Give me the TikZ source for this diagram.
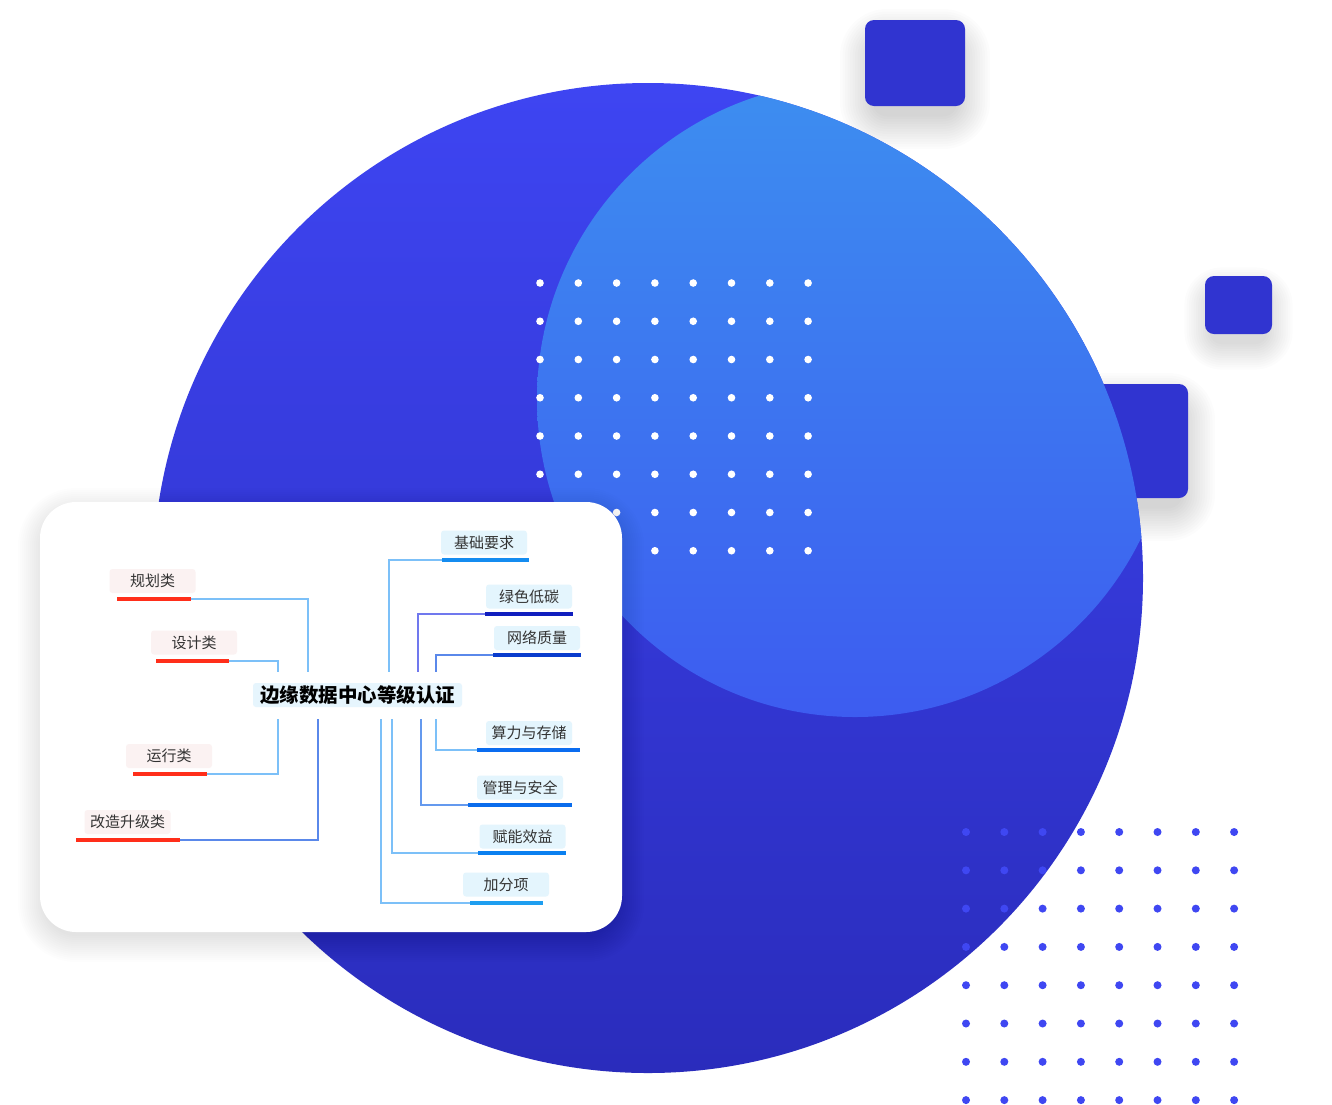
\documentclass[tikz,border=0pt]{standalone}
\usepackage{fontspec}
\setmainfont{Noto Sans CJK SC}
\usetikzlibrary{calc}
\definecolor{bigtop}{HTML}{3E45F2}
\definecolor{bigbot}{HTML}{2A2CBC}
\definecolor{lttop}{HTML}{3D8EF0}
\definecolor{ltbot}{HTML}{3D5CF0}
\definecolor{sqcol}{HTML}{3034D0}
\definecolor{dotblue}{HTML}{3F47F2}
\definecolor{lfill}{HTML}{FBF2F2}
\definecolor{rfill}{HTML}{E4F5FD}
\definecolor{cfill}{HTML}{E6F5FD}
\definecolor{redul}{HTML}{FF2E1A}
\definecolor{connlt}{HTML}{7CC0F8}
\definecolor{connpu}{HTML}{7078EE}
\definecolor{connmd}{HTML}{5A88EA}
\definecolor{txt}{HTML}{333333}
% soft shadow: x1 y1 x2 y2 radius dy layers step alpha
\newcommand{\softsh}[9]{%
  \foreach \k [evaluate=\k as \rr using #5+\k*#8] in {1,...,#7}{
    \fill[black, fill opacity=#9, rounded corners=\rr pt]
      ({#1-\k*#8},{#2-\k*#8+#6}) rectangle ({#3+\k*#8},{#4+\k*#8+#6});
  }}
\tikzset{
  sqbox/.style={fill=sqcol, rounded corners=9pt},
  lbox/.style={fill=lfill, rounded corners=3pt, minimum width=86pt, minimum height=24pt, inner sep=0pt, font=\fontsize{15}{15}\selectfont, text=txt},
  rbox/.style={fill=rfill, rounded corners=3pt, minimum width=86pt, minimum height=24pt, inner sep=0pt, font=\fontsize{15}{15}\selectfont, text=txt},
  ulred/.style={draw=redul, line width=3.5pt},
  ulblue/.style={line width=3.5pt},
  conn/.style={line width=1.3pt},
}
\begin{document}
\begin{tikzpicture}[x=1pt,y=-1pt]
\useasboundingbox (0,0) rectangle (1332,1104);
\fill[white] (0,0) rectangle (1332,1104);
% square shadows
\softsh{875}{30}{955}{100}{12}{14}{14}{2.5}{0.011}
\softsh{1212}{283}{1265}{330}{10}{12}{12}{2.3}{0.011}
\softsh{1070}{394}{1180}{492}{12}{14}{14}{2.5}{0.011}
% squares (behind circle)
\path[sqbox] (865,20) rectangle (965,106);
\path[sqbox] (1205,276) rectangle (1272,334);
\path[sqbox] (1060,384) rectangle (1188,498);
% big circle
\shade[top color=bigtop, middle color=bigtop!88!bigbot, bottom color=bigbot] (648,578) circle (495);
\begin{scope}
  \clip (648,578) circle (495);
  \shade[top color=lttop, middle color=lttop, bottom color=ltbot] (855,399) circle (318);
\end{scope}
% white dots
\foreach \i in {0,...,7}{\foreach \j in {0,...,7}{
  \fill[white] ({540+38.3*\i},{283+38.25*\j}) circle (3.8);
}}
% blue dots
\foreach \i in {0,...,7}{\foreach \j in {0,...,7}{
  \fill[dotblue] ({966+38.3*\i},{832+38.3*\j}) circle (4);
}}
% card shadow and card
\softsh{46}{510}{616}{928}{30}{6}{14}{2}{0.009}
\path[fill=white, rounded corners=36pt] (40,502) rectangle (622,932);
% central node
\node[fill=cfill, rounded corners=3pt, minimum width=209pt, minimum height=24pt, inner sep=0pt,
  font=\fontsize{19.5}{20}\selectfont\bfseries, text=black] (c) at (357.5,695) {边缘数据中心等级认证};
% left branches
\node[lbox] (l1) at (152.5,581) {规划类};
\node[lbox] (l2) at (194,642.5) {设计类};
\node[lbox] (l3) at (169,756) {运行类};
\node[lbox] (l4) at (127.5,822) {改造升级类};
\coordinate (l1a) at (117,599); \coordinate (l1b) at (191,599);
\coordinate (l2a) at (156,661); \coordinate (l2b) at (229,661);
\coordinate (l3a) at (133,774); \coordinate (l3b) at (207,774);
\coordinate (l4a) at (76,840);  \coordinate (l4b) at (180,840);
\coordinate (t1) at (308,672); \coordinate (t2) at (278,672);
\coordinate (b1) at (278,719); \coordinate (b2) at (318,719);
\draw[conn, draw=connlt] (l1b) -| (t1);
\draw[conn, draw=connlt] (l2b) -| (t2);
\draw[conn, draw=connlt] (l3b) -| (b1);
\draw[conn, draw=connmd] (l4b) -| (b2);
\draw[ulred] (l1a) -- (l1b);
\draw[ulred] (l2a) -- (l2b);
\draw[ulred] (l3a) -- (l3b);
\draw[ulred] (l4a) -- (l4b);
% right branches
\node[rbox] (r1) at (484,542.5) {基础要求};
\node[rbox] (r2) at (529,596.5) {绿色低碳};
\node[rbox] (r3) at (537,638) {网络质量};
\node[rbox] (r4) at (529,733) {算力与存储};
\node[rbox] (r5) at (520,787.5) {管理与安全};
\node[rbox] (r6) at (522.5,836.5) {赋能效益};
\node[rbox] (r7) at (506,884.5) {加分项};
\coordinate (r1a) at (442,560); \coordinate (r1b) at (529,560);
\coordinate (r2a) at (485,614); \coordinate (r2b) at (573,614);
\coordinate (r3a) at (493,655); \coordinate (r3b) at (581,655);
\coordinate (r4a) at (477,750); \coordinate (r4b) at (580,750);
\coordinate (r5a) at (468,805); \coordinate (r5b) at (572,805);
\coordinate (r6a) at (478,853); \coordinate (r6b) at (566,853);
\coordinate (r7a) at (470,903); \coordinate (r7b) at (543,903);
\coordinate (t3) at (389,672); \coordinate (t4) at (418,672); \coordinate (t5) at (436,672);
\coordinate (b3) at (436,719); \coordinate (b4) at (421,719); \coordinate (b5) at (392,719); \coordinate (b6) at (381,719);
\draw[conn, draw=connlt] (r1a) -| (t3);
\draw[conn, draw=connpu] (r2a) -| (t4);
\draw[conn, draw=connmd] (r3a) -| (t5);
\draw[conn, draw=connlt] (r4a) -| (b3);
\draw[conn, draw=connmd!70!connlt] (r5a) -| (b4);
\draw[conn, draw=connlt] (r6a) -| (b5);
\draw[conn, draw=connlt] (r7a) -| (b6);
\draw[ulblue, draw={rgb,255:red,20;green,140;blue,240}] (r1a) -- (r1b);
\draw[ulblue, draw={rgb,255:red,16;green,30;blue,190}] (r2a) -- (r2b);
\draw[ulblue, draw={rgb,255:red,10;green,60;blue,205}] (r3a) -- (r3b);
\draw[ulblue, draw={rgb,255:red,10;green,108;blue,240}] (r4a) -- (r4b);
\draw[ulblue, draw={rgb,255:red,10;green,108;blue,236}] (r5a) -- (r5b);
\draw[ulblue, draw={rgb,255:red,10;green,128;blue,240}] (r6a) -- (r6b);
\draw[ulblue, draw={rgb,255:red,30;green,158;blue,240}] (r7a) -- (r7b);
\end{tikzpicture}
\end{document}
